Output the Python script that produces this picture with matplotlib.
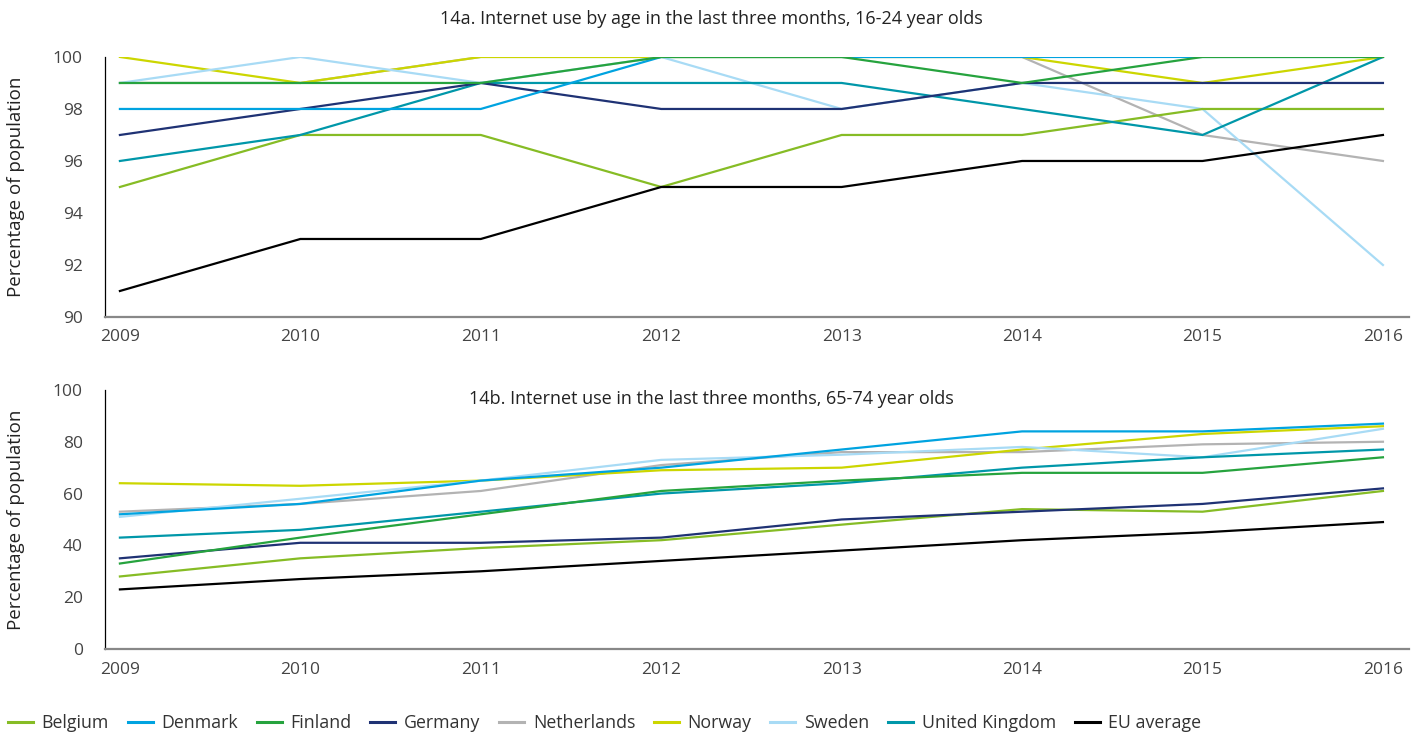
import matplotlib
matplotlib.use("Agg")
import matplotlib.pyplot as plt

plt.rcParams['font.family'] = ['Open Sans', 'DejaVu Sans']

years = [2009, 2010, 2011, 2012, 2013, 2014, 2015, 2016]
countries = ["Belgium", "Denmark", "Finland", "Germany", "Netherlands",
             "Norway", "Sweden", "United Kingdom", "EU average"]
colors = ["#86BC25", "#00A3E0", "#26A33E", "#1F3274", "#B3B3B3",
          "#CCD600", "#A8DBF5", "#0097A9", "#000000"]

# 14a: 16-24 year olds
young_belgium = [95, 97, 97, 95, 97, 97, 98, 98]
young_denmark = [98, 98, 98, 100, 100, 100, 100, 100]
young_finland = [99, 99, 99, 100, 100, 99, 100, 100]
young_germany = [97, 98, 99, 98, 98, 99, 99, 99]
young_netherlands = [99, 99, 100, 100, 100, 100, 97, 96]
young_norway = [100, 99, 100, 100, 100, 100, 99, 100]
young_sweden = [99, 100, 99, 100, 98, 99, 98, 92]
young_uk = [96, 97, 99, 99, 99, 98, 97, 100]
young_eu = [91, 93, 93, 95, 95, 96, 96, 97]

# 14b: 65-74 year olds
old_belgium = [28, 35, 39, 42, 48, 54, 53, 61]
old_denmark = [52, 56, 65, 70, 77, 84, 84, 87]
old_finland = [33, 43, 52, 61, 65, 68, 68, 74]
old_germany = [35, 41, 41, 43, 50, 53, 56, 62]
old_netherlands = [53, 56, 61, 71, 76, 76, 79, 80]
old_norway = [64, 63, 65, 69, 70, 77, 83, 86]
old_sweden = [51, 58, 65, 73, 75, 78, 74, 85]
old_uk = [43, 46, 53, 60, 64, 70, 74, 77]
old_eu = [23, 27, 30, 34, 38, 42, 45, 49]

young = [young_belgium, young_denmark, young_finland, young_germany,
         young_netherlands, young_norway, young_sweden, young_uk, young_eu]
old = [old_belgium, old_denmark, old_finland, old_germany,
       old_netherlands, old_norway, old_sweden, old_uk, old_eu]

# draw order (later on top) roughly matching reference
order = [4, 5, 6, 0, 7, 3, 1, 2, 8]

fig = plt.figure(figsize=(14.22, 7.36), dpi=100)
ax1 = fig.add_axes([0.0738, 0.5693, 0.917, 0.3533])
ax2 = fig.add_axes([0.0738, 0.1182, 0.917, 0.352])

lines = {}
for ax, data in ((ax1, young), (ax2, old)):
    for i in order:
        ln, = ax.plot(years, data[i], color=colors[i], lw=1.6,
                      solid_joinstyle='miter', label=countries[i])
        lines[i] = ln
    ax.set_xlim(2008.917, 2016.144)
    ax.set_xticks(years)
    for s in ("top", "right"):
        ax.spines[s].set_visible(False)
    ax.spines["left"].set_color("#000000")
    ax.spines["left"].set_linewidth(0.9)
    ax.spines["bottom"].set_color("#888888")
    ax.spines["bottom"].set_linewidth(1.6)
    ax.tick_params(length=0, labelsize=12.5, labelcolor="#444444")
    ax.tick_params(axis='y', pad=16)
    ax.tick_params(axis='x', pad=9)
    ax.set_ylabel("Percentage of population", fontsize=13.5, color="#222222")
    ax.yaxis.set_label_coords(-0.0613, 0.5)

ax1.set_ylim(90, 100)
ax1.set_yticks([90, 92, 94, 96, 98, 100])
ax2.set_ylim(0, 100)
ax2.set_yticks([0, 20, 40, 60, 80, 100])

fig.text(0.5, 0.974, "14a. Internet use by age in the last three months, 16-24 year olds",
         ha="center", va="center", fontsize=13, color="#222222")
ax2.text(0.465, 0.965, "14b. Internet use in the last three months, 65-74 year olds",
         transform=ax2.transAxes, ha="center", va="center", fontsize=13, color="#222222")

handles = [lines[i] for i in range(len(countries))]
leg = fig.legend(handles, countries, loc="center left", bbox_to_anchor=(0.0056, 0.0177),
                 ncol=9, frameon=False, fontsize=12.8, handlelength=1.4, handletextpad=0.5,
                 columnspacing=1.05, borderaxespad=0, borderpad=0, labelcolor="#333333")
for h in leg.legend_handles:
    h.set_linewidth(2.2)

fig.savefig("out.png", dpi=100)
